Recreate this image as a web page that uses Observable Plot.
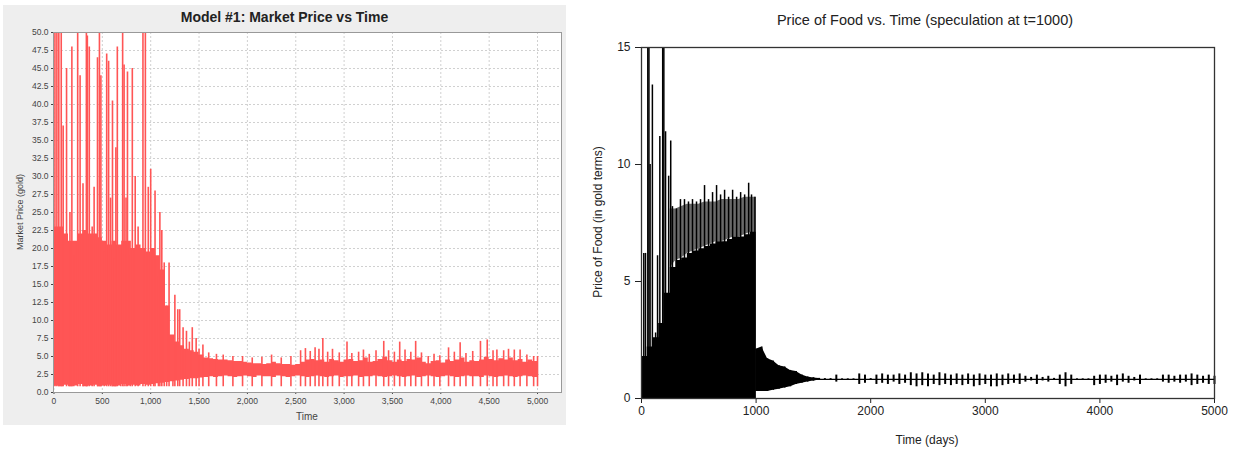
<!DOCTYPE html>
<html><head><meta charset="utf-8">
<script src="https://cdn.jsdelivr.net/npm/d3@7"></script>
<script src="https://cdn.jsdelivr.net/npm/@observablehq/plot@0.6"></script>
<style>
body{margin:0;width:1237px;height:452px;position:relative;background:#fff;overflow:hidden;font-family:"Liberation Sans",Arial,sans-serif;}
.abs{position:absolute;white-space:nowrap;}
#leftbox{position:absolute;left:3px;top:5px;width:563px;height:420px;background:#eeeeee;}
#leftplot{position:absolute;left:3px;top:5px;}
#rightplot{position:absolute;left:570px;top:30px;}
.rot{transform:rotate(-90deg);transform-origin:center center;text-align:center;}
</style></head><body>
<div id="leftbox"></div>
<div id="leftplot"></div>
<div id="rightplot"></div>
<div class="abs" style="left:3px;width:563px;top:9px;line-height:16px;text-align:center;font-weight:bold;font-size:14px;color:#222;">Model #1: Market Price vs Time</div>
<div class="abs rot" style="left:-80px;width:200px;top:206px;line-height:12px;font-size:9px;color:#444;">Market Price (gold)</div>
<div class="abs" style="left:207px;width:200px;top:411px;line-height:12px;text-align:center;font-size:10px;color:#444;">Time</div>
<div class="abs" style="left:725px;width:400px;top:11px;line-height:18px;text-align:center;font-size:14.5px;color:#222;">Price of Food vs. Time (speculation at t=1000)</div>
<div class="abs rot" style="left:448px;width:300px;top:215px;line-height:14px;font-size:12px;color:#222;">Price of Food (in gold terms)</div>
<div class="abs" style="left:827px;width:200px;top:433px;line-height:14px;text-align:center;font-size:12px;color:#222;">Time (days)</div>
<script>
// ---------- Left chart: Model #1 market price (sampled every 50 time units) ----------
const leftTimes = d3.range(0, 5001, 50);
const leftHigh = [
  23, 23, 22, 21, 21, 22, 22.5, 22, 22, 21.5,
  21, 20.5, 21, 20.5, 21, 21, 20, 20.5, 20, 19.5,
  20, 19, 17, 12, 8, 7, 6.5, 6, 5.8, 5.6,
  5.2, 4.8, 4.7, 4.6, 4.5, 4.5, 4.4, 4.3, 4.3, 4.2,
  4.1, 4.0, 4.0, 3.9, 4.0, 4.2, 4.0, 3.9, 3.9, 3.8,
  3.9, 4.2, 4.5, 4.6, 4.4, 4.5, 4.2, 4.6, 4.4, 4.2,
  4.5, 4.6, 4.3, 4.4, 4.8, 4.2, 4.3, 4.6, 4.9, 4.4,
  4.2, 4.5, 4.3, 4.6, 4.5, 4.8, 4.2, 4.0, 4.3, 4.4,
  4.1, 4.5, 4.3, 4.5, 4.8, 4.2, 4.4, 4.3, 4.5, 4.9,
  4.6, 4.4, 4.7, 4.5, 4.8, 4.4, 4.6, 4.2, 4.5, 4.3,
  4.2
];
const leftLow = [
  0.9, 0.8, 1.0, 0.8, 0.9, 1.1, 0.8, 0.9, 1.0, 0.8,
  0.9, 1.0, 0.8, 0.9, 1.1, 0.9, 1.0, 0.9, 1.1, 1.0,
  1.1, 1.2, 1.3, 1.4, 1.5, 1.6, 1.7, 1.8, 1.9, 1.9,
  2.0, 2.1, 2.2, 2.1, 2.2, 2.3, 2.2, 2.1, 2.2, 2.3,
  2.2, 2.1, 2.3, 2.2, 2.2, 2.1, 2.3, 2.2, 2.1, 2.2,
  2.3, 2.2, 2.1, 2.2, 2.3, 2.2, 2.1, 2.2, 2.3, 2.1,
  2.2, 2.2, 2.3, 2.1, 2.2, 2.2, 2.3, 2.2, 2.1, 2.2,
  2.3, 2.2, 2.1, 2.2, 2.3, 2.1, 2.2, 2.3, 2.2, 2.1,
  2.2, 2.3, 2.2, 2.1, 2.2, 2.3, 2.2, 2.2, 2.1, 2.3,
  2.2, 2.1, 2.2, 2.3, 2.2, 2.1, 2.2, 2.3, 2.2, 2.1,
  2.2
];
const leftSpikeTimes = [10,30,50,75,95,130,165,185,205,245,270,300,335,345,365,395,415,450,470,485,
  520,545,565,585,605,625,640,655,690,710,725,745,760,790,810,840,870,920,945,975,
  1000,1030,1045,1080,1095,1115,1140,1165,1190,1230,1250,1280,1300,1335,1370,1400,1430,1470,1500,
  1540,1600,1680,1750,1850,1950,2050,2150,2250,2350,2450,2550,2600,2650,2700,2740,2780,2830,2880,2950,
  3030,3080,3150,3200,3260,3330,3410,3460,3520,3575,3630,3690,3740,3800,3870,3930,3990,4080,4140,4200,
  4260,4330,4410,4480,4540,4580,4650,4700,4760,4820,4890,4960,5000];
const leftSpikePeaks = [50,50,50,50,37,45,25,48,19,50,44,29,50,49.5,48,23,28.5,46.5,50,44,
  19.5,47,46,27,40.5,18.5,34,48,20,50,45.5,27,44.5,19,45,30,23,50,50,28.5,
  31,20,28,16,25,22.5,18,12,18,7,13.5,11.5,11.5,9,8.5,7,9,7.5,6,
  6.6,5.5,5.3,5.2,5.0,5.0,4.8,4.9,5.2,4.8,5.0,5.8,6.1,5.7,6.2,6.0,7.5,5.6,6.0,5.5,
  7.0,5.4,5.6,5.9,5.3,5.8,7.1,5.8,5.6,7.0,5.9,5.6,7.1,5.5,5.0,5.3,5.1,6.2,5.6,6.9,
  5.4,5.7,7.1,7.3,5.8,5.9,5.8,6.0,5.9,5.9,5.2,5.0,5.0];
const leftXTicks = [0,500,1000,1500,2000,2500,3000,3500,4000,4500,5000];
const leftYTicks = d3.range(0, 50.01, 2.5);

// ---------- Right chart: price of food (sampled every 50 days) ----------
const rightTimes = d3.range(0, 5001, 50);
const rightHigh = [
  1.8, 2.2, 2.6, 3.2, 4.5, 5.6, 5.9, 6.0, 6.2, 6.3,
  6.4, 6.5, 6.6, 6.7, 6.7, 6.8, 6.9, 6.9, 7.0, 7.1,
  2.1, 2.2, 1.7, 1.6, 1.4, 1.35, 1.2, 1.15, 1.0, 0.92,
  0.88, 0.86, 0.85, 0.85, 1.0, 0.84, 0.84, 0.84, 1.05, 1.0,
  0.85, 1.0, 1.05, 1.0, 1.0, 1.05, 1.0, 1.1, 1.05, 1.1,
  1.05, 1.0, 1.1, 1.05, 1.0, 1.05, 1.0, 1.05, 1.0, 1.05,
  1.0, 1.0, 1.05, 1.0, 1.05, 1.0, 1.05, 0.95, 0.9, 1.0,
  0.9, 0.95, 0.86, 1.0, 1.1, 1.0, 0.84, 0.84, 0.84, 0.95,
  1.0, 1.0, 0.95, 1.0, 1.05, 0.95, 0.9, 1.0, 0.84, 0.84,
  0.84, 1.0, 1.0, 0.95, 1.0, 1.0, 1.05, 1.0, 0.95, 1.0,
  0.95
];
const rightLow = [
  0, 0, 0, 0, 0, 0, 0, 0, 0, 0,
  0, 0, 0, 0, 0, 0, 0, 0, 0, 0,
  0.3, 0.3, 0.3, 0.35, 0.4, 0.45, 0.5, 0.6, 0.65, 0.7,
  0.75, 0.78, 0.79, 0.8, 0.7, 0.8, 0.8, 0.8, 0.6, 0.65,
  0.8, 0.6, 0.65, 0.6, 0.7, 0.6, 0.65, 0.55, 0.5, 0.55,
  0.5, 0.6, 0.55, 0.6, 0.55, 0.6, 0.55, 0.6, 0.5, 0.55,
  0.6, 0.5, 0.5, 0.55, 0.6, 0.65, 0.6, 0.7, 0.75, 0.6,
  0.75, 0.7, 0.78, 0.6, 0.5, 0.6, 0.8, 0.8, 0.8, 0.55,
  0.6, 0.65, 0.7, 0.55, 0.7, 0.65, 0.75, 0.6, 0.8, 0.8,
  0.8, 0.7, 0.65, 0.7, 0.65, 0.7, 0.55, 0.6, 0.65, 0.6,
  0.6
];
const rightBandTimes = [250,300,350,400,450,500,550,600,650,700,750,800,850,900,950,1000];
const rightBandTop = [8.1,8.1,8.2,8.3,8.3,8.3,8.4,8.4,8.4,8.5,8.5,8.5,8.5,8.6,8.6,8.6];
const rightSpikeTimes = [20,35,55,65,75,95,123,140,160,185,195,210,237,255,270,305,340,375,410,445,
  480,515,550,585,620,655,690,725,760,795,830,865,900,935,960,990];
const rightSpikePeaks = [6.2,6.2,15,15,10,13.4,2.8,6.1,11.2,15,15,11.4,9.5,11,8.2,8.1,8.5,8.5,8.4,8.5,
  8.4,8.5,9.1,8.5,8.8,9.1,8.7,8.9,8.6,8.9,8.6,8.8,8.7,9.2,8.7,8.6];
const rightLevel = 0.82; // settled price level the series hovers around
const rightXTicks = [0,1000,2000,3000,4000,5000];
const rightYTicks = [0,5,10,15];

// ---------- build tables ----------
const leftData = leftTimes.map((t, i) => ({t, lo: leftLow[i], hi: leftHigh[i]}));
const leftSpikes = leftSpikeTimes.map((t, i) => ({t, v: leftSpikePeaks[i]}));
const rightData = rightTimes.map((t, i) => ({t, lo: rightLow[i], hi: rightHigh[i]}));
const rightBand = rightBandTimes.map((t, i) => ({t, top: rightBandTop[i], hi: rightHigh[rightTimes.indexOf(t)]}));
const rightSpikes = rightSpikeTimes.map((t, i) => ({t, v: rightSpikePeaks[i]}));
const rightDense = rightData.filter(d => d.t <= 1000);
const rightDecay = rightData.filter(d => d.t >= 1000 && d.t <= 1550);
const rightNoise = rightData.filter(d => d.t >= 1500);

const RED = "#ff5555";
const left = Plot.plot({
  width: 563, height: 420,
  marginLeft: 50, marginRight: 5, marginTop: 27, marginBottom: 33,
  style: {background: "#eeeeee", fontSize: "8.5px", fontFamily: "'Liberation Sans', Arial, sans-serif", color: "#444"},
  x: {domain: [-5, 5248], ticks: leftXTicks, tickFormat: d3.format(","), label: null, tickSize: 2, tickPadding: 3},
  y: {domain: [0, 50], ticks: leftYTicks, tickFormat: d => d.toFixed(1), label: null, tickSize: 2, tickPadding: 3},
  marks: [
    Plot.frame({fill: "white"}),
    Plot.ruleX(leftXTicks, {stroke: "#d0d0d0", strokeDasharray: "2,2"}),
    Plot.ruleY(leftYTicks, {stroke: "#d0d0d0", strokeDasharray: "2,2"}),
    Plot.areaY(leftData, {x: "t", y1: "lo", y2: "hi", fill: RED, curve: "step-after", clip: true}),
    Plot.ruleX(leftSpikes, {x: "t", y1: 0.8, y2: "v", stroke: RED, strokeWidth: 1.6, clip: true}),
    Plot.frame({stroke: "#999"})
  ]
});
document.getElementById("leftplot").append(left);

const right = Plot.plot({
  width: 667, height: 422,
  marginLeft: 71, marginRight: 23, marginTop: 17, marginBottom: 54,
  style: {background: "transparent", fontSize: "12px", fontFamily: "'Liberation Sans', Arial, sans-serif", color: "#222"},
  x: {domain: [0, 5000], ticks: rightXTicks, tickFormat: d3.format("d"), label: null, tickSize: 5, tickPadding: 3},
  y: {domain: [0, 15], ticks: rightYTicks, tickFormat: d3.format("d"), label: null, tickSize: 6, tickPadding: 5},
  marks: [
    Plot.areaY(rightBand, {x: "t", y1: "hi", y2: "top", fill: "#6a6a6a", clip: true}),
    Plot.areaY(rightDense, {x: "t", y1: "lo", y2: "hi", fill: "black", curve: "step-after", clip: true}),
    Plot.areaY(rightDecay, {x: "t", y1: "lo", y2: "hi", fill: "black", clip: true}),
    Plot.ruleX(rightDecay, {x: "t", y1: "lo", y2: "hi", stroke: "black", strokeWidth: 1.5}),
    Plot.ruleX(rightSpikes, {x: "t", y1: 0, y2: "v", stroke: "black", strokeWidth: 1.5, clip: true}),
    Plot.ruleY([rightLevel], {x1: 1500, x2: 5000, stroke: "black", strokeWidth: 1.2}),
    Plot.ruleX(rightNoise, {x: "t", y1: "lo", y2: "hi", stroke: "black", strokeWidth: 2}),
    Plot.frame({stroke: "#333", strokeWidth: 1.3})
  ]
});
document.getElementById("rightplot").append(right);
</script>
</body></html>
